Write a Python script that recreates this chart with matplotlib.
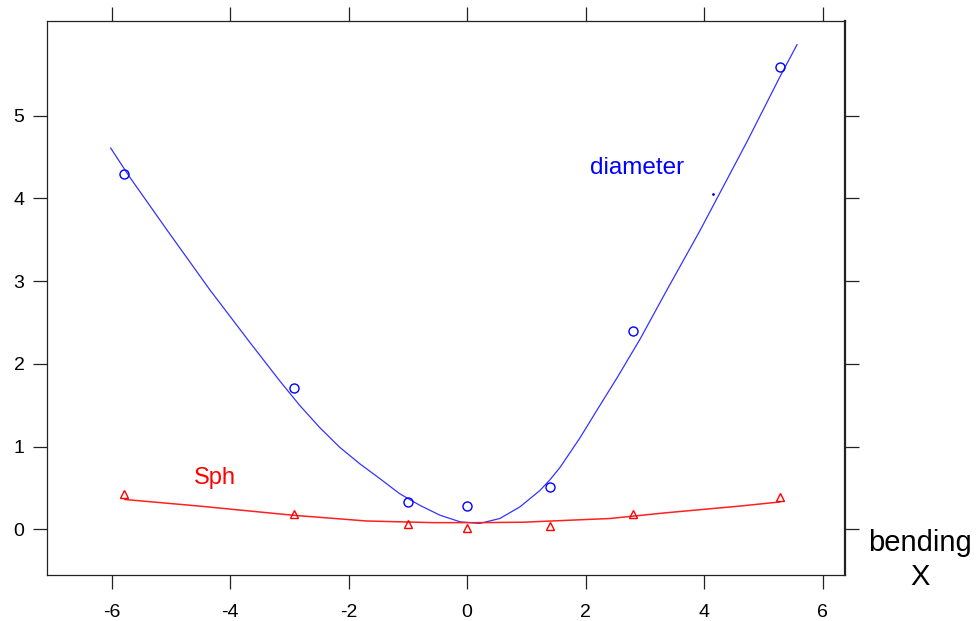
import matplotlib
matplotlib.use('Agg')
import matplotlib.pyplot as plt

plt.rcParams['font.family'] = ['Liberation Sans', 'DejaVu Sans']
plt.rcParams['axes.unicode_minus'] = False

# observed points
x_obs = [-5.8, -2.93, -1.0, 0.0, 1.4, 2.8, 5.28]
diameter = [4.30, 1.71, 0.33, 0.28, 0.51, 2.40, 5.59]
sph = [0.43, 0.19, 0.06, 0.02, 0.04, 0.18, 0.39]

# smooth fits
diam_fit_x = [-6.02, -5.70, -5.07, -4.35, -3.67, -3.16, -2.83, -2.49, -2.15, -1.81,
              -1.47, -1.14, -0.80, -0.46, -0.12, 0.21, 0.55, 0.89, 1.23, 1.40,
              1.57, 1.90, 2.20, 2.53, 2.92, 3.37, 3.93, 4.72, 5.28, 5.57]
diam_fit_y = [4.61, 4.26, 3.62, 2.90, 2.26, 1.79, 1.50, 1.23, 0.99, 0.79,
              0.61, 0.43, 0.29, 0.17, 0.09, 0.07, 0.13, 0.27, 0.47, 0.60,
              0.75, 1.10, 1.45, 1.83, 2.30, 2.89, 3.61, 4.68, 5.47, 5.86]
sph_fit_x = [-5.78, -4.52, -2.95, -1.70, -0.58, 0.21, 0.94, 2.41, 3.37, 4.60, 5.28]
sph_fit_y = [0.36, 0.28, 0.17, 0.10, 0.08, 0.08, 0.085, 0.13, 0.20, 0.28, 0.33]

# stray point near the diameter fit
dot_x = [4.15]
dot_y = [4.06]

xticks = [-6, -4, -2, 0, 2, 4, 6]
yticks = [0, 1, 2, 3, 4, 5]

fig = plt.figure(figsize=(9.77, 6.21), dpi=100)
ax = fig.add_axes([0.0478, 0.0741, 0.8171, 0.8926])

ax.plot(diam_fit_x, diam_fit_y, color='#3333ff', lw=0.9)
ax.plot(sph_fit_x, sph_fit_y, color='#ff2020', lw=1.1)
ax.plot(x_obs, diameter, 'o', mfc='none', mec='blue', ms=6.5, mew=1.0)
ax.plot(x_obs, sph, '^', mfc='none', mec='red', ms=5.5, mew=1.0)
ax.plot(dot_x, dot_y, '.', color='blue', ms=2)

ax.text(2.87, 4.37, 'diameter', color='blue', fontsize=17.5, ha='center', va='center')
ax.text(-4.26, 0.62, 'Sph', color='red', fontsize=17, ha='center', va='center')

ax.set_xlim(-7.10, 6.38)
ax.set_ylim(-0.553, 6.15)
ax.set_xticks(xticks)
ax.set_yticks(yticks)

ax.tick_params(axis='both', direction='out', length=10, width=0.9, color='#222222',
               labelsize=14, top=True, right=True)
ax.tick_params(axis='x', pad=11)
ax.tick_params(axis='y', pad=6)
for s in ax.spines.values():
    s.set_color('#222222')
    s.set_linewidth(0.9)
ax.spines['right'].set_linewidth(1.6)

fig.text(0.942, 0.126, 'bending', fontsize=21, ha='center', va='center')
fig.text(0.942, 0.071, 'X', fontsize=21, ha='center', va='center')

fig.savefig('out.png', dpi=100)
